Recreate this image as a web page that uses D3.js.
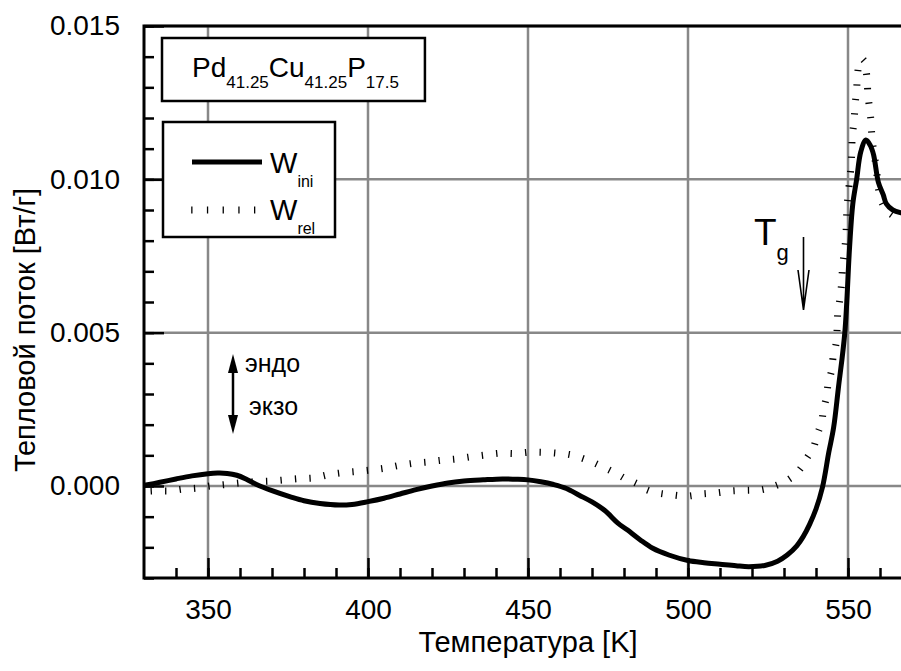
<!DOCTYPE html>
<html>
<head>
<meta charset="utf-8">
<script src="https://cdn.jsdelivr.net/npm/d3@7"></script>
<style>
  body { margin: 0; background: #fff; }
  svg { display: block; font-family: "Liberation Sans", Arial, sans-serif; }
</style>
</head>
<body>
<div id="chart"></div>
<script>
// W_ini (solid) : temperature [K] and heat flow [W/g]
var iniT = [330, 335, 340, 345, 350, 353, 356, 359, 362, 365, 370, 376, 380, 385, 391, 395, 400, 405, 410, 415,
            420, 425, 430, 436, 442, 446, 450, 454, 458, 462, 466, 470, 474, 478, 481, 485, 489, 494, 500, 505,
            510, 515, 519, 524, 528, 531, 534, 536, 538, 540, 542, 544, 545.5, 547, 549, 550.5, 551.5, 552.7, 554, 555.6,
            557, 558, 559.5, 561, 562, 564, 567, 570];
var iniV = [0.00002, 0.00012, 0.00023, 0.00033, 0.0004, 0.00042, 0.00041, 0.00035, 0.00022, 0.00006, -0.00015, -0.00036, -0.00048, -0.00057, -0.00062, -0.0006, -0.00051, -0.0004, -0.00026, -0.00012,
            0.0, 0.0001, 0.00016, 0.0002, 0.00023, 0.00022, 0.0002, 0.00014, 0.00005, -0.00008, -0.0003, -0.00052, -0.0008, -0.0012, -0.00143, -0.00175, -0.00203, -0.00225, -0.00243, -0.0025,
            -0.00255, -0.0026, -0.00263, -0.00259, -0.00245, -0.00225, -0.00195, -0.00165, -0.00125, -0.00075, -0.00005, 0.0011, 0.0019, 0.0032, 0.005, 0.0078, 0.0092, 0.01, 0.0109, 0.01128,
            0.0111, 0.0108, 0.0099, 0.0095, 0.0092, 0.009, 0.0089, 0.00885];

// W_rel (hatched)
var relT = [330, 333.4, 338, 342.3, 346.7, 350.6, 355.6, 360, 364.7, 369.4, 374, 378.2, 382.9, 387.3, 391.8, 396, 400.6, 405.3, 409.8, 414.2,
            418.5, 423, 427.5, 432, 436.6, 441.3, 446, 450.4, 454.8, 459, 463.3, 467.1, 470.6, 474, 477.5, 480.6, 484, 487, 490.7, 495.2,
            499.8, 504.3, 509.2, 513.7, 518.3, 523, 526.2, 530, 533.1, 535.6, 537.2, 539.2, 540.3, 541.8, 542.3, 543.3, 543.8, 544.9, 545.4, 546.3,
            546.6, 546.8, 547.5, 548, 548.3, 549.3, 549.5, 549.7, 550.2, 550.7, 551, 551.2, 551.3, 551.9, 552.2, 552.7, 553, 553.9, 554.8, 555.9,
            556.2, 556.8, 557.2, 557.4, 557.9, 558.4, 559, 559.5, 560.7, 563.1, 565.8, 570];
var relV = [-0.00018, -0.00016, -0.00016, -0.0001, -0.00007, 0, 0.00005, 0.0001, 0.00014, 0.00016, 0.0002, 0.00024, 0.00026, 0.00036, 0.00043, 0.00047, 0.00052, 0.00058, 0.00067, 0.00074,
            0.00078, 0.00084, 0.00088, 0.00095, 0.00101, 0.00107, 0.00106, 0.0011, 0.0011, 0.00107, 0.00102, 0.0009, 0.00076, 0.00059, 0.00041, 0.00023, 0.00008, -0.00012, -0.00023, -0.00029,
            -0.00033, -0.00026, -0.00022, -0.00016, -0.00014, -0.00012, -0.00003, 0.00013, 0.00034, 0.00063, 0.00092, 0.00125, 0.00165, 0.0021, 0.00248, 0.00291, 0.00335, 0.00378, 0.00424, 0.00466,
            0.00512, 0.00564, 0.00612, 0.0066, 0.00713, 0.00808, 0.00859, 0.00911, 0.00965, 0.01014, 0.01054, 0.01101, 0.01139, 0.0119, 0.01242, 0.01293, 0.01346, 0.01389, 0.0139, 0.01335,
            0.0128, 0.01226, 0.01188, 0.0115, 0.011, 0.01068, 0.0102, 0.0097, 0.00922, 0.00889, 0.00873, 0.0086];

var xMajor = [350, 400, 450, 500, 550];
var xMinor = d3.range(340, 571, 10);
var yMajor = [0, 0.005, 0.01, 0.015];
var yMinor = d3.range(-3, 16).map(function (d) { return d / 1000; });
var yLabels = ["0.000", "0.005", "0.010", "0.015"];

var width = 901, height = 671;

var svg = d3.select("#chart")
    .append("svg")
    .attr("width", width)
    .attr("height", height);

var x = d3.scaleLinear().domain([330, 570]).range([144, 912]);
var y = d3.scaleLinear().domain([-0.003, 0.015]).range([578, 26]);

svg.append("defs").append("clipPath")
    .attr("id", "plot")
    .append("rect")
    .attr("x", 144).attr("y", 26)
    .attr("width", 768).attr("height", 552);

// grid
var grid = svg.append("g").attr("stroke", "#888").attr("stroke-width", 2.5);
grid.selectAll(".vx").data(xMajor).enter().append("line")
    .attr("x1", x).attr("x2", x).attr("y1", 26).attr("y2", 578);
grid.selectAll(".hy").data(yMajor).enter().append("line")
    .attr("y1", y).attr("y2", y).attr("x1", 144).attr("x2", 912);

// minor ticks
svg.append("g")
    .attr("transform", "translate(0,578)")
    .call(d3.axisBottom(x).tickValues(xMinor).tickSize(-10).tickFormat(""))
    .call(function (g) { g.select(".domain").remove(); });
svg.append("g")
    .attr("transform", "translate(144,0)")
    .call(d3.axisLeft(y).tickValues(yMinor).tickSize(-10).tickFormat(""))
    .call(function (g) { g.select(".domain").remove(); });

// major ticks with labels
var xAxis = svg.append("g")
    .attr("transform", "translate(0,578)")
    .call(d3.axisBottom(x).tickValues(xMajor).tickSize(-20).tickPadding(21).tickFormat(d3.format("d")));
xAxis.select(".domain").remove();

var yAxis = svg.append("g")
    .attr("transform", "translate(144,0)")
    .call(d3.axisLeft(y).tickValues(yMajor).tickSize(-20).tickPadding(24)
        .tickFormat(function (d, i) { return yLabels[i]; }));
yAxis.select(".domain").remove();

svg.selectAll(".tick line").attr("stroke", "#000").attr("stroke-width", 2.5);
svg.selectAll(".tick text")
    .attr("fill", "#000")
    .style("font-family", "Liberation Sans, Arial, sans-serif")
    .style("font-size", "28px");

// curves
var plot = svg.append("g").attr("clip-path", "url(#plot)");

var line = d3.line()
    .x(function (d) { return x(d[0]); })
    .y(function (d) { return y(d[1]); })
    .curve(d3.curveCatmullRom.alpha(0.5));

var relData = relT.map(function (t, i) { return [t, relV[i]]; });
var iniData = iniT.map(function (t, i) { return [t, iniV[i]]; });

var relPath = plot.append("path")
    .datum(relData)
    .attr("d", line)
    .attr("fill", "none")
    .attr("stroke", "none");

function hatch(g, node, step, len) {
    var total = node.getTotalLength();
    for (var s = step / 2; s < total; s += step) {
        var a = node.getPointAtLength(Math.max(0, s - 1)),
            b = node.getPointAtLength(Math.min(total, s + 1)),
            p = node.getPointAtLength(s);
        var dx = b.x - a.x, dy = b.y - a.y, n = Math.hypot(dx, dy) || 1;
        var nx = -dy / n, ny = dx / n;
        g.append("line")
            .attr("x1", p.x - nx * len / 2).attr("y1", p.y - ny * len / 2)
            .attr("x2", p.x + nx * len / 2).attr("y2", p.y + ny * len / 2)
            .attr("stroke", "#000")
            .attr("stroke-width", 1.3);
    }
}

hatch(plot.append("g"), relPath.node(), 14.5, 7);

plot.append("path")
    .datum(iniData)
    .attr("d", line)
    .attr("fill", "none")
    .attr("stroke", "#000")
    .attr("stroke-width", 5)
    .attr("stroke-linejoin", "round");

// frame
var frame = svg.append("g").attr("stroke", "#000").attr("stroke-width", 3).attr("fill", "none");
frame.append("path").attr("d", "M912,26H144V578H912");

// formula box
var fbox = svg.append("g");
var frect = fbox.append("rect")
    .attr("x", 162).attr("y", 38).attr("height", 63)
    .attr("fill", "#fff").attr("stroke", "#000").attr("stroke-width", 2.5);
var ftext = fbox.append("text")
    .attr("x", 192).attr("y", 77)
    .style("font-size", "28px");
[["Pd", 0], ["41.25", 1], ["Cu", 0], ["41.25", 1], ["P", 0], ["17.5", 1]].forEach(function (p, i) {
    ftext.append("tspan")
        .attr("dy", p[1] ? 11 : (i ? -11 : 0))
        .style("font-size", p[1] ? "17px" : "28px")
        .text(p[0]);
});
var fb = ftext.node().getBBox();
frect.attr("width", fb.x + fb.width + 26 - 162);

// legend box
var leg = svg.append("g");
leg.append("rect")
    .attr("x", 163).attr("y", 122).attr("width", 172).attr("height", 115)
    .attr("fill", "#fff").attr("stroke", "#000").attr("stroke-width", 2.5);
leg.append("line")
    .attr("x1", 192).attr("x2", 262).attr("y1", 162).attr("y2", 162)
    .attr("stroke", "#000").attr("stroke-width", 5);
var legRel = leg.append("path")
    .attr("d", "M184,210H264")
    .attr("stroke", "none");
hatch(leg.append("g"), legRel.node(), 15.7, 7);

function subLabel(g, xPos, yPos, main, sub) {
    var t = g.append("text").attr("x", xPos).attr("y", yPos).style("font-size", "29px");
    t.append("tspan").text(main);
    t.append("tspan").attr("dy", 14).style("font-size", "16px").text(sub);
    return t;
}
subLabel(leg, 270, 173, "W", "ini");
subLabel(leg, 270, 220, "W", "rel");

// T_g annotation
subLabel(svg, 754, 245, "T", "g").style("font-size", "37px")
    .select("tspan:last-child").attr("dy", 15).style("font-size", "22px");

var arrows = svg.append("g").attr("stroke", "#000").attr("stroke-width", 1.6).attr("fill", "none");
arrows.append("path").attr("d", "M803.5,237V310M798,270L803.5,310L809,270");

// endo / exo
svg.append("line")
    .attr("x1", 233).attr("x2", 233).attr("y1", 368).attr("y2", 420)
    .attr("stroke", "#000").attr("stroke-width", 2.5);
svg.append("path").attr("d", "M233,354L238,373L228,373Z").attr("fill", "#000");
svg.append("path").attr("d", "M233,434L238,415L228,415Z").attr("fill", "#000");
svg.append("text").attr("x", 245).attr("y", 372).style("font-size", "25px").text("эндо");
svg.append("text").attr("x", 249).attr("y", 415).style("font-size", "25px").text("экзо");

// axis titles
svg.append("text")
    .attr("x", 528).attr("y", 652)
    .attr("text-anchor", "middle")
    .style("font-size", "29px")
    .text("Температура [K]");

svg.append("text")
    .attr("transform", "translate(35,330) rotate(-90)")
    .attr("text-anchor", "middle")
    .style("font-size", "29px")
    .text("Тепловой поток [Вт/г]");
</script>
</body>
</html>
